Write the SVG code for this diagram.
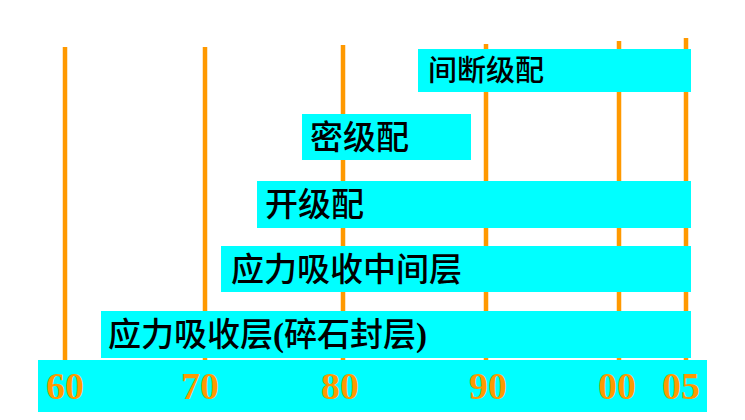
<svg xmlns="http://www.w3.org/2000/svg" width="745" height="420" viewBox="0 0 745 420">
<style>
.grid{stroke:#FF9900;stroke-width:4.5;fill:none}
.bar{fill:#00FFFF}
.lbl{font-family:"Noto Sans CJK SC","Liberation Serif",sans-serif;font-weight:500;fill:#000}
.par{font-family:"Liberation Serif","Noto Sans CJK SC",serif;font-weight:bold}
.yr{font-family:"Liberation Serif",serif;font-weight:bold;font-size:38px;fill:#FF9900;text-anchor:middle}
</style>
<rect width="745" height="420" fill="#fff"/>
<g id="gridlines">
<line class="grid" x1="65" y1="47" x2="65" y2="362"/>
<line class="grid" x1="205" y1="47" x2="205" y2="362"/>
<line class="grid" x1="343" y1="45" x2="343" y2="362"/>
<line class="grid" x1="486" y1="44" x2="486" y2="362"/>
<line class="grid" x1="619" y1="41" x2="619" y2="362"/>
<line class="grid" x1="686" y1="38" x2="686" y2="362"/>
</g>
<g id="bar-intermittent">
<rect class="bar" x="418" y="49" width="273" height="43"/>
<text class="lbl" x="428" y="81" font-size="29">间断级配</text>
</g>
<g id="bar-dense">
<rect class="bar" x="302" y="114" width="169" height="46"/>
<text class="lbl" x="310" y="149" font-size="33">密级配</text>
</g>
<g id="bar-open">
<rect class="bar" x="257" y="181" width="434" height="47"/>
<text class="lbl" x="265" y="216" font-size="33">开级配</text>
</g>
<g id="bar-interlayer">
<rect class="bar" x="221" y="246" width="470" height="46"/>
<text class="lbl" x="231" y="281" font-size="33">应力吸收中间层</text>
</g>
<g id="bar-absorb">
<rect class="bar" x="101" y="311" width="590" height="47"/>
<text class="lbl" x="108" y="346" font-size="33">应力吸收层<tspan class="par">(</tspan>碎石封层<tspan class="par">)</tspan></text>
</g>
<g id="axis">
<rect class="bar" x="38" y="360" width="669" height="52"/>
<text class="yr" x="65" y="399">60</text>
<text class="yr" x="200" y="399">70</text>
<text class="yr" x="340" y="399">80</text>
<text class="yr" x="488" y="399">90</text>
<text class="yr" x="617" y="399">00</text>
<text class="yr" x="681" y="399">05</text>
</g>
</svg>
